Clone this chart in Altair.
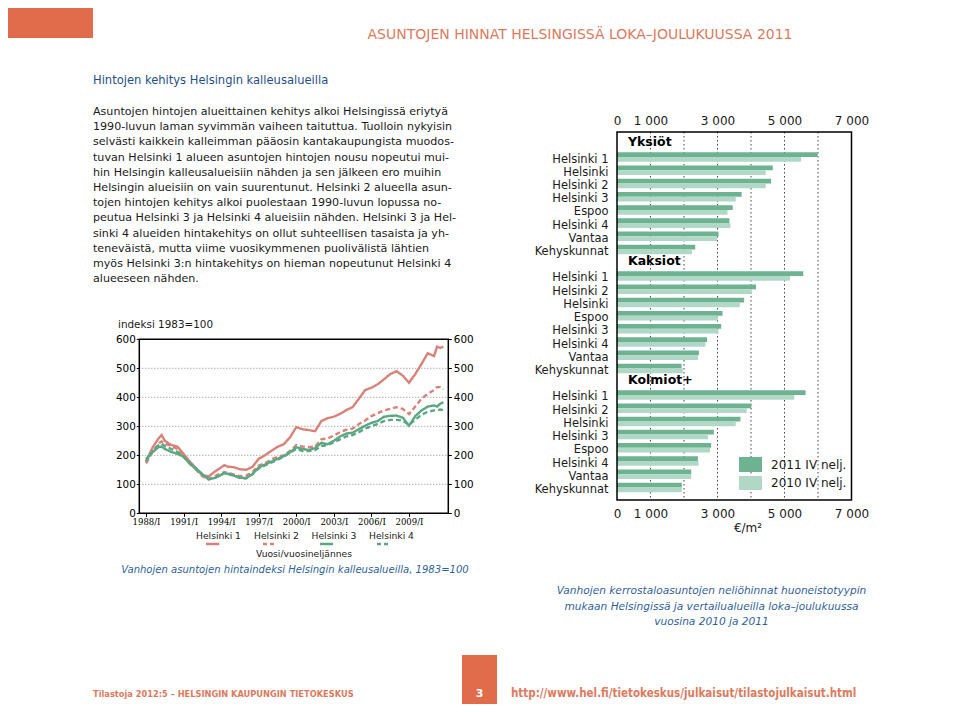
import altair as alt
import pandas as pd

# ---------------- data: price index (1983=100) ----------------
periods = ["1988/I", "1988/III", "1989/I", "1989/II", "1989/III", "1990/I", "1990/III",
           "1991/I", "1991/III", "1992/I", "1992/III", "1993/I", "1993/III", "1994/I",
           "1994/II", "1994/III", "1995/I", "1995/III", "1996/I", "1996/III", "1997/I",
           "1997/III", "1998/I", "1998/III", "1999/I", "1999/III", "2000/I", "2000/III",
           "2001/I", "2001/III", "2002/I", "2002/III", "2003/I", "2003/III", "2004/I",
           "2004/III", "2005/I", "2005/III", "2006/I", "2006/III", "2007/I", "2007/III",
           "2008/I", "2008/III", "2009/I", "2009/III", "2010/I", "2010/III", "2011/I",
           "2011/II", "2011/III", "2011/IV"]
helsinki1 = [178, 225, 258, 270, 250, 236, 230, 205, 178, 155, 132, 127, 144, 158, 166, 161,
             159, 152, 150, 160, 188, 200, 215, 229, 238, 262, 297, 290, 287, 283, 318, 328,
             333, 343, 356, 366, 395, 425, 433, 445, 462, 480, 490, 475, 450, 480, 515, 552,
             542, 575, 570, 575]
helsinki2 = [172, 210, 240, 248, 240, 232, 222, 198, 172, 150, 128, 117, 128, 138, 142, 140,
             134, 128, 130, 142, 165, 172, 185, 195, 200, 215, 235, 230, 228, 230, 255, 258,
             268, 280, 288, 292, 308, 320, 335, 345, 355, 360, 366, 360, 342, 368, 395, 412,
             425, 435, 435, 428]
helsinki3 = [187, 210, 228, 230, 222, 212, 205, 195, 172, 155, 135, 117, 122, 132, 138, 136,
             130, 122, 122, 135, 158, 168, 178, 188, 197, 210, 228, 222, 218, 225, 243, 238,
             250, 265, 275, 278, 290, 302, 312, 318, 333, 336, 337, 330, 302, 335, 355, 368,
             372, 368, 378, 383]
helsinki4 = [180, 212, 235, 240, 232, 222, 212, 195, 170, 152, 133, 119, 122, 133, 140, 138,
             132, 122, 120, 135, 155, 165, 175, 185, 195, 210, 222, 215, 215, 218, 232, 235,
             245, 255, 265, 270, 280, 292, 300, 308, 318, 322, 322, 320, 305, 322, 340, 350,
             355, 355, 358, 355]
series_names = ["Helsinki 1", "Helsinki 2", "Helsinki 3", "Helsinki 4"]
x_label_years = [1988, 1991, 1994, 1997, 2000, 2003, 2006, 2009]
index_ticks = [0, 100, 200, 300, 400, 500, 600]

# ---------------- data: prices per m2 ----------------
room_types = ["Yksiöt", "Kaksiot", "Kolmiot+"]
areas_yksiot = ["Helsinki 1", "Helsinki", "Helsinki 2", "Helsinki 3", "Espoo", "Helsinki 4", "Vantaa", "Kehyskunnat"]
p2011_yksiot = [5990, 4650, 4600, 3720, 3455, 3355, 3030, 2335]
p2010_yksiot = [5490, 4440, 4440, 3545, 3300, 3385, 2990, 2235]
areas_kaksiot = ["Helsinki 1", "Helsinki 2", "Helsinki", "Espoo", "Helsinki 3", "Helsinki 4", "Vantaa", "Kehyskunnat"]
p2011_kaksiot = [5560, 4150, 3795, 3150, 3110, 2690, 2445, 1925]
p2010_kaksiot = [5165, 4020, 3665, 3010, 3030, 2640, 2415, 1965]
areas_kolmiot = ["Helsinki 1", "Helsinki 2", "Helsinki", "Helsinki 3", "Espoo", "Helsinki 4", "Vantaa", "Kehyskunnat"]
p2011_kolmiot = [5630, 4010, 3685, 2890, 2810, 2415, 2215, 1935]
p2010_kolmiot = [5290, 3870, 3545, 2720, 2780, 2435, 2215, 1935]
year_labels = ["2011 IV nelj.", "2010 IV nelj."]
price_ticks = [0, 1000, 2000, 3000, 4000, 5000, 6000, 7000]

paragraph = [
    "Asuntojen hintojen alueittainen kehitys alkoi Helsingissä eriytyä",
    "1990-luvun laman syvimmän vaiheen taituttua. Tuolloin nykyisin",
    "selvästi kaikkein kalleimman pääosin kantakaupungista muodos-",
    "tuvan Helsinki 1 alueen asuntojen hintojen nousu nopeutui mui-",
    "hin Helsingin kalleusalueisiin nähden ja sen jälkeen ero muihin",
    "Helsingin alueisiin on vain suurentunut. Helsinki 2 alueella asun-",
    "tojen hintojen kehitys alkoi puolestaan 1990-luvun lopussa no-",
    "peutua Helsinki 3 ja Helsinki 4 alueisiin nähden. Helsinki 3 ja Hel-",
    "sinki 4 alueiden hintakehitys on ollut suhteellisen tasaista ja yh-",
    "teneväistä, mutta viime vuosikymmenen puolivälistä lähtien",
    "myös Helsinki 3:n hintakehitys on hieman nopeutunut Helsinki 4",
    "alueeseen nähden.",
]
bar_caption = [
    "Vanhojen kerrostaloasuntojen neliöhinnat huoneistotyypin",
    "mukaan Helsingissä ja vertailualueilla loka–joulukuussa",
    "vuosina 2010 ja 2011",
]

# ---------------- styles ----------------
RED = "#d9827a"
GREEN = "#5aa883"
DARK = "#6db391"
LIGHT = "#b1d8c6"
ORANGE = "#e06c4c"
ORANGE_TXT = "#dc7a5e"
BLUE = "#2f5f9e"
TITLE_BLUE = "#1f4f8c"
NARROW = "DejaVu Sans Condensed, sans-serif"
TXT = "#1a1a1a"

W, H = 944, 696
# plot rectangles (pixels inside the single view)
LX0, LX1, LY0, LY1 = 131.3, 440.3, 331.3, 505.3     # index chart
BX0, BX1, BY0, BY1 = 609.0, 843.5, 124.0, 492.0     # price chart frame
ROW0, ROW1 = 129.2, 486.1                          # band range of the 27 price-chart rows

# ---------------- tables ----------------
roman = {"I": 1, "II": 2, "III": 3, "IV": 4}
line_rows = []
for name, vals in zip(series_names, [helsinki1, helsinki2, helsinki3, helsinki4]):
    for p, v in zip(periods, vals):
        y, q = p.split("/")
        line_rows.append({"period": p, "t": int(y) + (roman[q] - 1) / 4, "series": name, "value": v})
line_df = pd.DataFrame(line_rows)
index_grid_df = pd.DataFrame({"value": index_ticks[1:-1]})
price_grid_df = pd.DataFrame({"price": price_ticks[1:-1]})

keys, bar_rows, label_rows, title_rows = [], [], [], []
for g, areas, v11, v10 in zip(room_types,
                              [areas_yksiot, areas_kaksiot, areas_kolmiot],
                              [p2011_yksiot, p2011_kaksiot, p2011_kolmiot],
                              [p2010_yksiot, p2010_kaksiot, p2010_kolmiot]):
    keys.append(g + "|")
    title_rows.append({"key": g + "|", "label": g})
    for a, a11, a10 in zip(areas, v11, v10):
        k = g + "|" + a
        keys.append(k)
        label_rows.append({"key": k, "label": a})
        bar_rows.append({"key": k, "year": year_labels[0], "price": a11})
        bar_rows.append({"key": k, "year": year_labels[1], "price": a10})
bar_df = pd.DataFrame(bar_rows)
label_df = pd.DataFrame(label_rows)
title_df = pd.DataFrame(title_rows)

dummy = alt.Data(values=[{"a": 1}])


def txt(x, y, s, **kw):
    return alt.Chart(dummy).mark_text(**kw).encode(x=alt.value(x), y=alt.value(y), text=alt.value(s))


def box(x, x2, y, y2, **kw):
    return alt.Chart(dummy).mark_rect(**kw).encode(
        x=alt.value(x), x2=alt.value(x2), y=alt.value(y), y2=alt.value(y2))


# ---------------- scales ----------------
t_scale = alt.Scale(domain=[1987.465, 2012.14], range=[LX0, LX1], nice=False, zero=False)
v_scale = alt.Scale(domain=[0, 600], range=[LY1, LY0], nice=False, zero=False)
p_scale = alt.Scale(domain=[0, 7000], range=[BX0, BX1], nice=False, zero=True)
row_scale = alt.Scale(domain=keys, range=[ROW0, ROW1], paddingInner=0, paddingOuter=0)
color_scale = alt.Scale(domain=series_names, range=[RED, RED, GREEN, GREEN])
dash_scale = alt.Scale(domain=series_names, range=[[1, 0], [5, 3], [1, 0], [5, 3]])
label_expr = ("datum.value == 0 ? '0' : (datum.value % 2000 == 1000 ? "
              "replace(format(datum.value, ','), ',', ' ') : '')")

# ---------------- index chart ----------------
index_grid = alt.Chart(index_grid_df).mark_rule(color="#8a8a8a", strokeDash=[1, 2], strokeWidth=1).encode(
    y=alt.Y("value:Q", scale=v_scale, axis=None), x=alt.value(LX0), x2=alt.value(LX1))
lines = alt.Chart(line_df).mark_line(strokeWidth=2.4).encode(
    x=alt.X("t:Q", scale=t_scale, axis=alt.Axis(
        orient="bottom", offset=LY1 - H, values=x_label_years, labelExpr="datum.value + '/I'",
        title=None, grid=False, tickSize=3, tickColor="#000", labelFont="DejaVu Serif",
        labelFontSize=8.5, labelPadding=1, domain=False, labelColor="#000", labelFlush=False)),
    y=alt.Y("value:Q", scale=v_scale, axis=alt.Axis(
        orient="left", offset=-LX0, values=index_ticks, title=None, grid=False, tickSize=3,
        tickColor="#000", labelPadding=1, domain=False, labelFontSize=10.4, labelColor="#000")),
    color=alt.Color("series:N", scale=color_scale, legend=None),
    strokeDash=alt.StrokeDash("series:N", scale=dash_scale, legend=None),
)
right_axis = alt.Chart(line_df).mark_line(opacity=0).encode(
    x=alt.X("t:Q", scale=t_scale, axis=None),
    y=alt.Y("value:Q", scale=v_scale, axis=alt.Axis(
        orient="right", offset=LX1 - W, values=index_ticks, title=None, grid=False, tickSize=3,
        tickColor="#000", labelPadding=2, domain=False, labelFontSize=10.4, labelColor="#000")),
    detail="series:N",
)
legend_x = [210.5, 268.5, 326.0, 383.5]
legend_sample = [(198.0, 211.3), (255.0, 267.0), (312.0, 325.0), (369.0, 382.0)]
legend_layers = []
for name, lx, (sx1, sx2), col, dash in zip(series_names, legend_x, legend_sample,
                                         [RED, RED, GREEN, GREEN],
                                         [[1, 0], [4, 3], [1, 0], [4, 3]]):
    legend_layers.append(txt(lx, 527.7, name, align="center", baseline="middle", fontSize=9.2, color=TXT))
    legend_layers.append(alt.Chart(dummy).mark_rule(color=col, strokeWidth=2.4, strokeDash=dash).encode(
        x=alt.value(sx1), x2=alt.value(sx2), y=alt.value(536)))

# ---------------- price chart ----------------
price_grid = alt.Chart(price_grid_df).mark_rule(color="#444", strokeDash=[1.5, 2.5], strokeWidth=1).encode(
    x=alt.X("price:Q", scale=p_scale, axis=None), y=alt.value(BY0), y2=alt.value(BY1))
bars = alt.Chart(bar_df).mark_bar().encode(
    x=alt.X("price:Q", scale=p_scale, axis=alt.Axis(
        orient="bottom", offset=BY1 - H, values=price_ticks, labelExpr=label_expr, grid=False,
        ticks=False, domain=False, labelFlush=False, labelOverlap=False, title=None,
        labelPadding=8, labelFontSize=12, labelColor=TXT)),
    y=alt.Y("key:N", scale=row_scale, axis=None),
    yOffset=alt.YOffset("year:N", scale=alt.Scale(domain=year_labels, paddingInner=0, paddingOuter=0.39)),
    color=alt.Color("year:N", scale=alt.Scale(domain=year_labels, range=[DARK, LIGHT]), legend=None),
)
top_axis = alt.Chart(bar_df).mark_bar(opacity=0).encode(
    x=alt.X("price:Q", scale=p_scale, axis=alt.Axis(
        orient="top", offset=-BY0, values=price_ticks, labelExpr=label_expr, grid=False,
        ticks=False, domain=False, labelFlush=False, labelOverlap=False, title=None,
        labelPadding=5, labelFontSize=12, labelColor=TXT)),
    y=alt.Y("key:N", scale=row_scale, axis=None),
)
area_labels = alt.Chart(label_df).mark_text(align="right", baseline="middle", dy=2.5,
                                            fontSize=11.5, color=TXT).encode(
    y=alt.Y("key:N", scale=row_scale, axis=None), x=alt.value(BX0 - 8.5), text="label:N")
group_titles = alt.Chart(title_df).mark_text(align="left", baseline="middle", dy=-1.5,
                                             fontSize=12.5, fontWeight="bold", color="#000").encode(
    y=alt.Y("key:N", scale=row_scale, axis=None), x=alt.value(BX0 + 11), text="label:N")

chart = alt.layer(
    # page decoration and text
    box(0, 85, 0, 30, color=ORANGE),
    txt(572, 27, "ASUNTOJEN HINNAT HELSINGISSÄ LOKA–JOULUKUUSSA 2011",
        align="center", baseline="middle", fontSize=14, color=ORANGE_TXT),
    txt(85, 72, "Hintojen kehitys Helsingin kalleusalueilla",
        align="left", baseline="middle", fontSize=12.8, font=NARROW, color=TITLE_BLUE),
    txt(85, 107, paragraph, align="left", baseline="alphabetic", fontSize=11.1,
        lineHeight=15.2, color=TXT),
    # index chart
    index_grid, lines, right_axis,
    box(LX0, LX1, LY0, LY1, fillOpacity=0, stroke="#000", strokeWidth=1.5),
    txt(110, 316.7, "indeksi 1983=100", align="left", baseline="middle", fontSize=10.4, color=TXT),
    *legend_layers,
    txt(296, 546, "Vuosi/vuosineljännes", align="center", baseline="middle", fontSize=9.2, color=TXT),
    txt(287, 561.5, "Vanhojen asuntojen hintaindeksi Helsingin kalleusalueilla, 1983=100",
        align="center", baseline="middle", fontSize=10.05, fontStyle="italic", color=BLUE),
    # price chart
    price_grid, bars, top_axis, area_labels, group_titles,
    box(BX0, BX1, BY0, BY1, fillOpacity=0, stroke="#000", strokeWidth=1.5),
    box(731, 754, 449, 464, color=DARK),
    box(731, 754, 468, 482, color=LIGHT),
    txt(763, 457, year_labels[0], align="left", baseline="middle", fontSize=12, color=TXT),
    txt(763, 475.3, year_labels[1], align="left", baseline="middle", fontSize=12, color=TXT),
    txt(740, 520, "€/m²", align="center", baseline="middle", fontSize=12, color=TXT),
    txt(703.5, 586, bar_caption, align="center", baseline="alphabetic", fontSize=10.6,
        lineHeight=15.5, fontStyle="italic", color=BLUE),
    # footer
    txt(85, 686, "Tilastoja 2012:5 – HELSINGIN KAUPUNGIN TIETOKESKUS", align="left",
        baseline="middle", fontSize=9.2, font=NARROW, fontWeight="bold", color=ORANGE_TXT),
    box(454, 489, 647, 696, color=ORANGE),
    txt(471.5, 686, "3", align="center", baseline="middle", fontSize=11, fontWeight="bold", color="#ffffff"),
    txt(503, 686, "http://www.hel.fi/tietokeskus/julkaisut/tilastojulkaisut.html", align="left",
        baseline="middle", fontSize=11.5, font=NARROW, fontWeight="bold", color=ORANGE_TXT),
).resolve_scale(
    x="independent", y="independent", color="independent", strokeDash="independent"
).resolve_axis(
    x="independent", y="independent"
).properties(
    width=W, height=H, padding=0, autosize=alt.AutoSizeParams(type="none")
).configure(font="DejaVu Sans").configure_view(strokeWidth=0)

chart.save("out.html", embed_options={"renderer": "svg", "actions": False})
